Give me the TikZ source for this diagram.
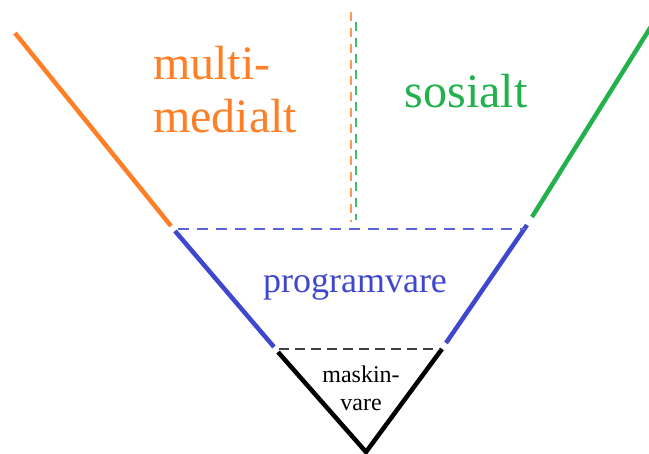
\documentclass[tikz,border=0pt]{standalone}
\usepackage{fontspec}
\setmainfont{Liberation Serif}
\definecolor{ora}{RGB}{255,127,39}
\definecolor{grn}{RGB}{34,177,76}
\definecolor{blu}{RGB}{63,72,204}
\begin{document}
\begin{tikzpicture}[x=1pt,y=-1pt,
  seg/.style={line width=4.5pt},
  dsh/.style={line width=1.1pt, dash pattern=on 11pt off 8pt},
  vdsh/.style={line width=1.1pt, dash pattern=on 9pt off 7pt},
  lbl/.style={inner sep=0pt}]
\useasboundingbox (0,0) rectangle (649,454);
% corner points
\coordinate (oA) at (15,33);
\coordinate (oB) at (171,226);
\coordinate (bL1) at (175,231);
\coordinate (bL2) at (274,347);
\coordinate (kL) at (278,352);
\coordinate (apex) at (366,452);
\coordinate (kR) at (442,349);
\coordinate (bR1) at (446,343);
\coordinate (bR2) at (527,225);
\coordinate (gA) at (532,217);
\coordinate (gB) at (652,25);
\coordinate (dbL) at (178,229);
\coordinate (dbR) at (525,229);
\coordinate (dkL) at (279,349);
\coordinate (dkR) at (440,349);
\coordinate (voT) at (351,12);
\coordinate (voB) at (351,222);
\coordinate (vgT) at (356,22);
\coordinate (vgB) at (356,220);
% solid sides
\draw[seg, ora] (oA) -- (oB);
\draw[seg, blu] (bL1) -- (bL2);
\draw[seg, black, line join=miter] (kL) -- (apex) -- (kR);
\draw[seg, blu] (bR1) -- (bR2);
\draw[seg, grn] (gA) -- (gB);
% dashed lines
\draw[dsh, blu!85] (dbL) -- (dbR);
\draw[line width=1.1pt, dash pattern=on 10pt off 6pt, black!75] (dkL) -- (dkR);
\draw[vdsh, ora!80] (voT) -- (voB);
\draw[vdsh, grn!85] (vgT) -- (vgB);
% labels
\node[lbl, anchor=north west, align=left, text=ora, font=\fontsize{48}{53}\selectfont] (multi) at (153,46) {multi-\\medialt};
\node[lbl, anchor=base, text=grn, font=\fontsize{48}{53}\selectfont] (sos) at (466,108) {sosialt};
\node[lbl, anchor=base, text=blu, font=\fontsize{36}{40}\selectfont] (prog) at (355,293) {programvare};
\node[lbl, anchor=north, align=center, text=black, font=\fontsize{24}{28}\selectfont] (mask) at (361,366) {maskin-\\vare};
\end{tikzpicture}
\end{document}
